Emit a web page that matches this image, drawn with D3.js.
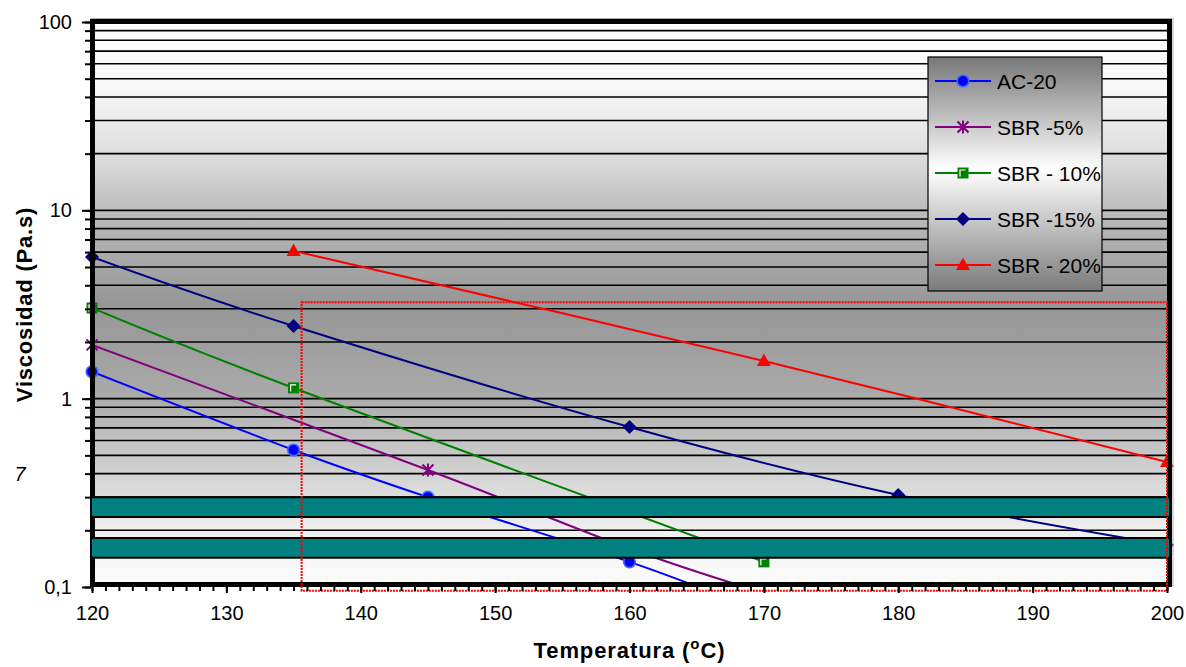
<!DOCTYPE html>
<html>
<head>
<meta charset="utf-8">
<script src="https://cdn.jsdelivr.net/npm/d3@7/dist/d3.min.js"></script>
<style>
  html, body { margin: 0; padding: 0; background: #fff; }
  svg { display: block; font-family: "Liberation Sans", Arial, sans-serif; }
</style>
</head>
<body>
<svg id="chart" width="1186" height="667"></svg>
<script>
// Viscosity (Pa.s) versus temperature (°C) for the base binder and the SBR blends
const seriesNames = ["AC-20", "SBR -5%", "SBR - 10%", "SBR -15%", "SBR - 20%"];

const ac20Temp  = [120, 135, 145, 160, 170];
const ac20Visc  = [1.39, 0.534, 0.30, 0.136, 0.073];
const sbr5Temp  = [120, 145, 160, 170];
const sbr5Visc  = [1.93, 0.418, 0.16, 0.093];
const sbr10Temp = [120, 135, 170];
const sbr10Visc = [3.03, 1.14, 0.136];
const sbr15Temp = [120, 135, 160, 180, 200];
const sbr15Visc = [5.65, 2.43, 0.707, 0.308, 0.167];
const sbr20Temp = [135, 170, 200];
const sbr20Visc = [6.09, 1.586, 0.461];

// Axis ticks
const xMajorTicks = [120, 130, 140, 150, 160, 170, 180, 190, 200];
const yMajorTicks = [0.1, 1, 10, 100];
const yTickLabels = ["0,1", "1", "10", "100"];
const strayLabel = { text: "7", value: 0.4 };

// Highlight bands (viscosity ranges) and the dotted working window
const bandLow  = [0.235, 0.182];
const bandHigh = [0.30, 0.143];
const windowTemp = [135.6, 200];
const windowVisc = [0.0955, 3.25];

const colors  = ["#0000ff", "#800080", "#008000", "#000080", "#ff0000"];
const markers = ["circle", "star", "square", "diamond", "triangle"];

const series = seriesNames.map((name, i) => {
  const t = [ac20Temp, sbr5Temp, sbr10Temp, sbr15Temp, sbr20Temp][i];
  const v = [ac20Visc, sbr5Visc, sbr10Visc, sbr15Visc, sbr20Visc][i];
  return { name, color: colors[i], marker: markers[i],
           points: t.map((d, j) => ({ t: d, v: v[j] })) };
});

const svg = d3.select("#chart");
const L = 92, R = 1167, T = 22, B = 587;

const x = d3.scaleLinear().domain([120, 200]).range([L, R]);
const y = d3.scaleLog().domain([0.1, 100]).range([B, T]);

const defs = svg.append("defs");

const bg = defs.append("linearGradient").attr("id", "plotBg")
  .attr("x1", 0).attr("y1", 0).attr("x2", 0).attr("y2", 1);
[[0, "#ffffff"], [0.12, "#f7f7f7"], [0.24, "#dcdcdc"], [0.34, "#bbbbbb"],
 [0.50, "#969696"], [0.66, "#a9a9a9"], [0.80, "#d3d3d3"], [0.90, "#efefef"],
 [1, "#fdfdfd"]].forEach(([o, c]) => bg.append("stop").attr("offset", o).attr("stop-color", c));

const lg = defs.append("linearGradient").attr("id", "legendBg")
  .attr("x1", 0).attr("y1", 0).attr("x2", 0).attr("y2", 1);
[[0, "#777777"], [0.48, "#ffffff"], [1, "#7a7a7a"]]
  .forEach(([o, c]) => lg.append("stop").attr("offset", o).attr("stop-color", c));

defs.append("clipPath").attr("id", "plotClip")
  .append("rect").attr("x", L).attr("y", T).attr("width", R - L).attr("height", B - T);

// Plot background
svg.append("rect").attr("x", L).attr("y", T).attr("width", R - L).attr("height", B - T)
  .attr("fill", "url(#plotBg)");

// Minor/major log values
const yAllTicks = [];
[0.1, 1, 10].forEach(dec => { for (let k = 1; k <= 9; k++) yAllTicks.push(+(dec * k).toPrecision(3)); });
yAllTicks.push(100);

// Horizontal gridlines
svg.append("g").selectAll("line")
  .data(yAllTicks.filter(v => v > 0.1 && v < 100))
  .join("line")
  .attr("x1", L).attr("x2", R)
  .attr("y1", d => y(d)).attr("y2", d => y(d))
  .attr("stroke", "#000").attr("stroke-width", 1.6);

// Series lines
const line = d3.line().x(d => x(d.t)).y(d => y(d.v)).curve(d3.curveCardinal.tension(0));
const lineG = svg.append("g").attr("clip-path", "url(#plotClip)");
series.forEach(s => {
  lineG.append("path").datum(s.points)
    .attr("d", line).attr("fill", "none")
    .attr("stroke", s.color).attr("stroke-width", 2);
});

function drawMarker(g, type, color) {
  if (type === "circle") {
    g.append("circle").attr("r", 5.8).attr("fill", "#0000ff")
      .attr("stroke", "#3d6bff").attr("stroke-width", 1.6);
  } else if (type === "star") {
    g.append("path").attr("d", "M0,-6.5V6.5M-5.5,-5.5L5.5,5.5M-5.5,5.5L5.5,-5.5")
      .attr("stroke", color).attr("stroke-width", 2).attr("fill", "none");
  } else if (type === "square") {
    g.append("rect").attr("x", -5.5).attr("y", -5.5).attr("width", 11).attr("height", 11)
      .attr("fill", color);
    g.append("path").attr("d", "M-3,3.5V-3H2.5").attr("stroke", "#fff")
      .attr("stroke-width", 1.2).attr("fill", "none");
  } else if (type === "diamond") {
    g.append("path").attr("d", "M0,-7L7,0L0,7L-7,0Z").attr("fill", color);
  } else if (type === "triangle") {
    g.append("path").attr("d", "M0,-7.5L7,5H-7Z").attr("fill", color);
  }
}

// Markers (points below the axis minimum are not shown)
series.forEach(s => {
  s.points.filter(p => p.v >= 0.1).forEach(p => {
    const g = svg.append("g").attr("transform", `translate(${x(p.t)},${y(p.v)})`);
    drawMarker(g, s.marker, s.color);
  });
});

// Plot frame
svg.append("rect").attr("x", L - 1).attr("y", T - 3.5).attr("width", R - L + 7).attr("height", B - T + 2)
  .attr("fill", "none").attr("stroke", "#b0b0b0").attr("stroke-width", 1);
svg.append("rect").attr("x", L + 0.5).attr("y", T - 0.5).attr("width", R - L + 2).attr("height", B - T - 2)
  .attr("fill", "none").attr("stroke", "#000").attr("stroke-width", 5);

// Teal bands
const bandG = svg.append("g");
bandLow.forEach((lo, i) => {
  const hi = bandHigh[i];
  const y0 = y(Math.max(lo, hi)), y1 = y(Math.min(lo, hi));
  bandG.append("rect").attr("x", x(120)).attr("y", y0).attr("width", x(200) - x(120) + 2)
    .attr("height", y1 - y0).attr("fill", "#008080");
  [y0, y1].forEach(yy => bandG.append("line")
    .attr("x1", x(120)).attr("x2", x(200) + 2).attr("y1", yy).attr("y2", yy)
    .attr("stroke", "#000").attr("stroke-width", 2));
});

// Dotted working window
svg.append("rect")
  .attr("x", x(windowTemp[0])).attr("y", y(windowVisc[1]))
  .attr("width", x(windowTemp[1]) - x(windowTemp[0]))
  .attr("height", y(windowVisc[0]) - y(windowVisc[1]))
  .attr("fill", "none").attr("stroke", "#ff0000").attr("stroke-width", 2)
  .attr("stroke-dasharray", "2,1");

// Y axis: minor ticks, then major ticks with labels
const yMinorAxis = d3.axisLeft(y).tickValues(yAllTicks).tickSize(6).tickFormat("");
svg.append("g").attr("transform", `translate(${L - 1},0)`).call(yMinorAxis)
  .call(g => g.select(".domain").remove())
  .call(g => g.selectAll(".tick line").attr("stroke", "#000").attr("stroke-width", 2));
const yMajorAxis = d3.axisLeft(y).tickValues(yMajorTicks).tickSize(9)
  .tickFormat(d => yTickLabels[yMajorTicks.indexOf(d)]);
svg.append("g").attr("transform", `translate(${L - 1},0)`).call(yMajorAxis)
  .call(g => g.select(".domain").remove())
  .call(g => g.selectAll(".tick line").attr("stroke", "#000").attr("stroke-width", 2))
  .call(g => g.selectAll(".tick text").attr("x", -19).attr("font-size", 20)
    .attr("fill", "#000").attr("font-family", "Liberation Sans, Arial, sans-serif"));

svg.append("text").attr("x", 20).attr("y", y(strayLabel.value) + 7)
  .attr("text-anchor", "middle").attr("font-size", 20).attr("font-style", "italic")
  .attr("fill", "#000").text(strayLabel.text);

// X axis
const xMinorAxis = d3.axisBottom(x).tickValues(d3.range(120, 201, 1)).tickSize(4).tickFormat("");
svg.append("g").attr("transform", `translate(0,${B})`).call(xMinorAxis)
  .call(g => g.select(".domain").remove())
  .call(g => g.selectAll(".tick line").attr("stroke", "#000").attr("stroke-width", 2));
const xMajorAxis = d3.axisBottom(x).tickValues(xMajorTicks).tickSize(6).tickFormat(d3.format("d"));
svg.append("g").attr("transform", `translate(0,${B})`).call(xMajorAxis)
  .call(g => g.select(".domain").remove())
  .call(g => g.selectAll(".tick line").attr("stroke", "#000").attr("stroke-width", 2))
  .call(g => g.selectAll(".tick text").attr("y", 27).attr("dy", "0.32em").attr("font-size", 20)
    .attr("fill", "#000").attr("font-family", "Liberation Sans, Arial, sans-serif"));

// Axis titles
const xTitle = svg.append("text").attr("x", (L + R) / 2).attr("y", 658)
  .attr("text-anchor", "middle").attr("font-size", 22).attr("font-weight", "bold")
  .attr("letter-spacing", 0.9).attr("fill", "#000");
xTitle.append("tspan").text("Temperatura (");
xTitle.append("tspan").attr("font-size", 15).attr("dy", -9).text("o");
xTitle.append("tspan").attr("dy", 9).text("C)");

svg.append("text")
  .attr("transform", `translate(32,${(T + B) / 2}) rotate(-90)`)
  .attr("text-anchor", "middle").attr("font-size", 22).attr("font-weight", "bold")
  .attr("letter-spacing", 0.8).attr("fill", "#000").text("Viscosidad (Pa.s)");

// Legend
const legend = svg.append("g");
legend.append("rect").attr("x", 928).attr("y", 57).attr("width", 174).attr("height", 234)
  .attr("fill", "url(#legendBg)").attr("stroke", "#000").attr("stroke-width", 1.2);
series.forEach((s, i) => {
  const ly = 81 + i * 46;
  legend.append("line").attr("x1", 935).attr("x2", 991).attr("y1", ly).attr("y2", ly)
    .attr("stroke", s.color).attr("stroke-width", 2);
  drawMarker(legend.append("g").attr("transform", `translate(963,${ly})`), s.marker, s.color);
  legend.append("text").attr("x", 997).attr("y", ly).attr("dy", "0.36em")
    .attr("font-size", 21).attr("fill", "#000").text(s.name);
});
</script>
</body>
</html>
